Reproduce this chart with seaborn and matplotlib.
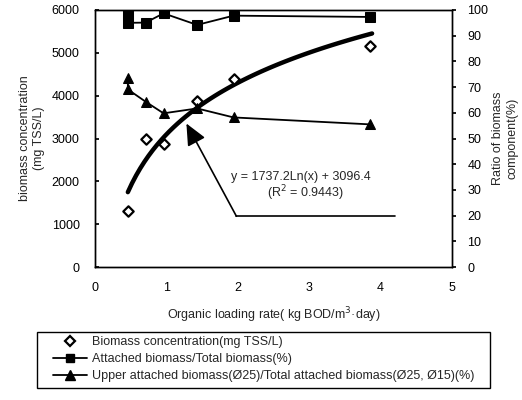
import numpy as np
import pandas as pd
import matplotlib
matplotlib.use("Agg")
import matplotlib.pyplot as plt
import seaborn as sns
from matplotlib.lines import Line2D
from matplotlib.patches import Rectangle

sns.set_theme(style="white")
plt.rcParams['font.family'] = ['Liberation Sans', 'DejaVu Sans']

# ---- data ----
olr_biomass = [0.46, 0.71, 0.96, 1.43, 1.94, 3.85]
biomass_conc = [1300, 3000, 2870, 3870, 4380, 5170]

olr_attached = [0.46, 0.46, 0.71, 0.96, 1.43, 1.94, 3.85]
attached_ratio = [99.0, 95.0, 95.1, 98.7, 94.2, 97.8, 97.3]

olr_upper = [0.46, 0.46, 0.71, 0.96, 1.43, 1.94, 3.85]
upper_ratio = [73.4, 69.1, 64.3, 59.8, 61.7, 58.2, 55.5]

# log trendline coefficients shown on the chart
trend_a, trend_b = 1737.2, 3096.4
trend_x = np.linspace(0.46, 3.88, 60)
trend_y = trend_a * np.log(trend_x) + trend_b

x_ticks = [0, 1, 2, 3, 4, 5]
left_ticks = [0, 1000, 2000, 3000, 4000, 5000, 6000]
right_ticks = [0, 10, 20, 30, 40, 50, 60, 70, 80, 90, 100]

df_b = pd.DataFrame({"x": olr_biomass, "y": biomass_conc})
df_a = pd.DataFrame({"x": olr_attached, "y": attached_ratio})
df_u = pd.DataFrame({"x": olr_upper, "y": upper_ratio})
df_t = pd.DataFrame({"x": trend_x, "y": trend_y})

fig = plt.figure(figsize=(5.22, 4.0), dpi=100)
ax = fig.add_axes([0.182, 0.3325, 0.684, 0.6425])
ax2 = ax.twinx()

# trend line
sns.lineplot(data=df_t, x="x", y="y", ax=ax, color="black", lw=3.2, sort=False, zorder=3)
# diamonds
sns.scatterplot(data=df_b, x="x", y="y", ax=ax, marker="D", s=28, facecolor="white",
                edgecolor="black", linewidth=1.6, zorder=4)

# ratio series
sns.lineplot(data=df_a, x="x", y="y", ax=ax2, color="black", lw=1.3, sort=False,
             marker="s", markersize=7.5, markeredgecolor="black", estimator=None)
sns.lineplot(data=df_u, x="x", y="y", ax=ax2, color="black", lw=1.3, sort=False,
             marker="^", markersize=7.5, markeredgecolor="black", estimator=None)

ax.set_xlim(0, 5)
ax.set_ylim(0, 6000)
ax2.set_ylim(0, 100)
ax.set_xticks(x_ticks)
ax.set_yticks(left_ticks)
ax2.set_yticks(right_ticks)

for a in (ax, ax2):
    for s in a.spines.values():
        s.set_color("black")
        s.set_linewidth(1.0)

ax.tick_params(axis="y", direction="in", length=3, pad=11, labelsize=9, colors="black")
ax.tick_params(axis="x", direction="out", length=0, pad=11, labelsize=9, colors="black")
ax2.tick_params(axis="y", direction="out", length=3, pad=8, labelsize=9, colors="black")

ax.set_xlabel("Organic loading rate( kg BOD/m$^3$·day)", fontsize=9, labelpad=8)
ax.set_ylabel("biomass concentration\n(mg TSS/L)", fontsize=9, labelpad=5)
ax2.set_ylabel("Ratio of biomass\ncomponent(%)", fontsize=9, labelpad=3)

# annotation: equation with arrow
ax.text(2.88, 2100, "y = 1737.2Ln(x) + 3096.4", ha="center", va="center", fontsize=9)
ax.text(2.95, 1730, "(R$^2$ = 0.9443)", ha="center", va="center", fontsize=9)
arrow_path_x = [4.2, 1.98]
arrow_path_y = [1185, 1185]
ax.plot(arrow_path_x, arrow_path_y, color="black", lw=1.2, zorder=5)
ax.annotate("", xy=(1.28, 3350), xytext=(1.98, 1185),
            arrowprops=dict(arrowstyle="-|>,head_length=1.1,head_width=0.5",
                            color="black", lw=1.2, shrinkA=0, shrinkB=0), zorder=5)

handles = [
    Line2D([], [], ls="none", marker="D", markersize=5, markerfacecolor="white",
           markeredgecolor="black", markeredgewidth=1.6),
    Line2D([], [], color="black", lw=1.3, marker="s", markersize=6),
    Line2D([], [], color="black", lw=1.3, marker="^", markersize=6.5),
]
labels = [
    "Biomass concentration(mg TSS/L)",
    "Attached biomass/Total biomass(%)",
    "Upper attached biomass(Ø25)/Total attached biomass(Ø25, Ø15)(%)",
]
leg = fig.legend(handles, labels, loc="upper left", bbox_to_anchor=(53 / 522, 1 - 336 / 400),
                 fontsize=9, frameon=False, handlelength=2.7, handletextpad=0.4,
                 labelspacing=0.42, borderpad=0.0, borderaxespad=0)
fig.patches.append(Rectangle((37 / 522, 1 - 388 / 400), 453 / 522, 56 / 400,
                             transform=fig.transFigure, fill=False,
                             edgecolor="black", linewidth=1.0))

fig.savefig("out.png", dpi=100, facecolor="white")
